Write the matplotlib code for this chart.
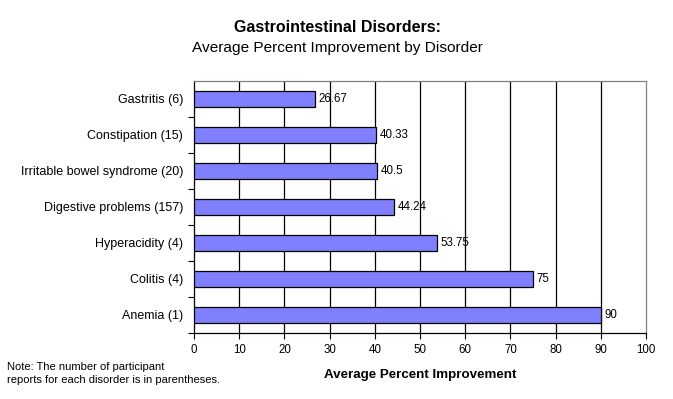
import matplotlib.pyplot as plt

plt.rcParams['font.family'] = ['Liberation Sans', 'DejaVu Sans']

disorders = ["Anemia (1)", "Colitis (4)", "Hyperacidity (4)", "Digestive problems (157)",
             "Irritable bowel syndrome (20)", "Constipation (15)", "Gastritis (6)"]
improvement = [90, 75, 53.75, 44.24, 40.5, 40.33, 26.67]
value_labels = ["90", "75", "53.75", "44.24", "40.5", "40.33", "26.67"]
xticks = list(range(0, 101, 10))

fig = plt.figure(figsize=(6.73, 3.99), dpi=100)
ax = fig.add_axes([194 / 673, 66 / 399, 452 / 673, 252 / 399])

ypos = list(range(len(disorders)))
ax.barh(ypos, improvement, height=0.42, color="#8080FF", edgecolor="black", linewidth=0.9, zorder=3)

for y, v, lab in zip(ypos, improvement, value_labels):
    ax.text(v + 0.8, y, lab, va="center", ha="left", fontsize=8.3, zorder=4)

ax.set_xlim(0, 100)
ax.set_ylim(-0.5, len(disorders) - 0.5)
ax.set_xticks(xticks)
ax.set_xticklabels([str(t) for t in xticks], fontsize=8.3)
ax.set_yticks(ypos)
ax.set_yticklabels(disorders, fontsize=9)
ax.tick_params(axis="y", length=0, pad=8)
ax.set_yticks([y + 0.5 for y in ypos[:-1]] + [-0.5], minor=True)
ax.tick_params(axis="y", which="minor", length=4, direction="out", width=0.8)
ax.tick_params(axis="x", length=4, direction="out", width=0.8, pad=4)

for t in xticks[1:-1]:
    ax.axvline(t, color="black", linewidth=0.9, zorder=1)

ax.spines["left"].set_color("black")
ax.spines["bottom"].set_color("black")
ax.spines["top"].set_color("#808080")
ax.spines["right"].set_color("#808080")
for s in ax.spines.values():
    s.set_linewidth(0.9)

ax.set_xlabel("Average Percent Improvement", fontsize=9.6, fontweight="bold", labelpad=9)

fig.text(337 / 673, 1 - 28 / 399, "Gastrointestinal Disorders:", ha="center", va="center",
         fontsize=11.5, fontweight="bold")
fig.text(337 / 673, 1 - 48 / 399, "Average Percent Improvement by Disorder", ha="center", va="center",
         fontsize=11.1)
fig.text(7 / 673, 1 - 373.5 / 399, "Note: The number of participant\nreports for each disorder is in parentheses.",
         ha="left", va="center", fontsize=8, linespacing=1.45)

fig.savefig("out.png", dpi=100)
